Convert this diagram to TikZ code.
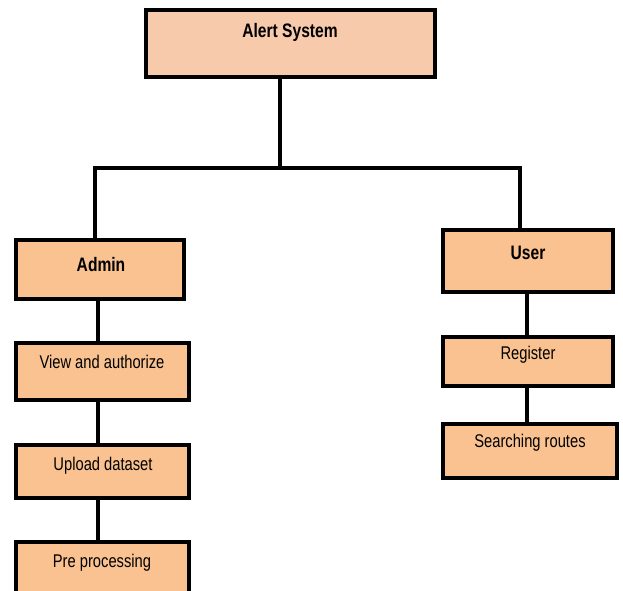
\documentclass[tikz,border=0pt]{standalone}
\usepackage{fontspec}
\setmainfont{Liberation Sans}[FakeStretch=0.8]
\definecolor{topfill}{HTML}{F6CAAA}
\definecolor{boxfill}{HTML}{F9C290}
\begin{document}
\begin{tikzpicture}[x=1pt,y=-1pt,
  box/.style={draw=black, line width=3.2pt, fill=boxfill, rectangle, inner sep=0pt},
  txt/.style={font=\fontsize{18.4}{21}\selectfont, inner sep=0pt},
  btxt/.style={font=\bfseries\fontsize{19.5}{22}\selectfont, inner sep=0pt},
  conn/.style={draw=black, line width=3.2pt}]
\useasboundingbox (0,0) rectangle (623,590);
\node[box, fill=topfill, minimum width=289pt, minimum height=67pt] (alert) at (290.5,43.5) {};
\node[box, minimum width=168pt, minimum height=59pt] (admin) at (100,269.5) {};
\node[box, minimum width=173pt, minimum height=57pt] (view) at (102.5,371.5) {};
\node[box, minimum width=173pt, minimum height=53pt] (upload) at (102.5,471.5) {};
\node[box, minimum width=173pt, minimum height=52pt] (pre) at (102.5,568) {};
\node[box, minimum width=170pt, minimum height=62pt] (user) at (528,261) {};
\node[box, minimum width=170pt, minimum height=49pt] (register) at (528,361.5) {};
\node[box, minimum width=174pt, minimum height=54pt] (search) at (530,451) {};
\node[btxt] (alertt) at (290,32) {Alert System};
\node[btxt] (admint) at (101,265) {Admin};
\node[txt] (viewt) at (102,362) {View and authorize};
\node[txt] (uploadt) at (103,466) {Upload dataset};
\node[txt] (pret) at (102,563) {Pre processing};
\node[btxt] (usert) at (528,253) {User};
\node[txt] (registert) at (528,355) {Register};
\node[txt] (searcht) at (530,443) {Searching routes};
\coordinate (j) at (280,168);
\draw[conn] (j |- alert.south) -- (j);
\draw[conn] ([xshift=-5pt]admin.north) |- (j) -| ([xshift=-8pt]user.north);
\draw[conn] ([xshift=-2pt]admin.south) -- ([xshift=-2pt]admin.south |- view.north);
\draw[conn] ([xshift=-4.5pt]view.south) -- ([xshift=-4.5pt]view.south |- upload.north);
\draw[conn] ([xshift=-4.5pt]upload.south) -- ([xshift=-4.5pt]upload.south |- pre.north);
\draw[conn] ([xshift=-1pt]user.south) -- ([xshift=-1pt]user.south |- register.north);
\draw[conn] ([xshift=-1pt]register.south) -- ([xshift=-1pt]register.south |- search.north);
\end{tikzpicture}
\end{document}
